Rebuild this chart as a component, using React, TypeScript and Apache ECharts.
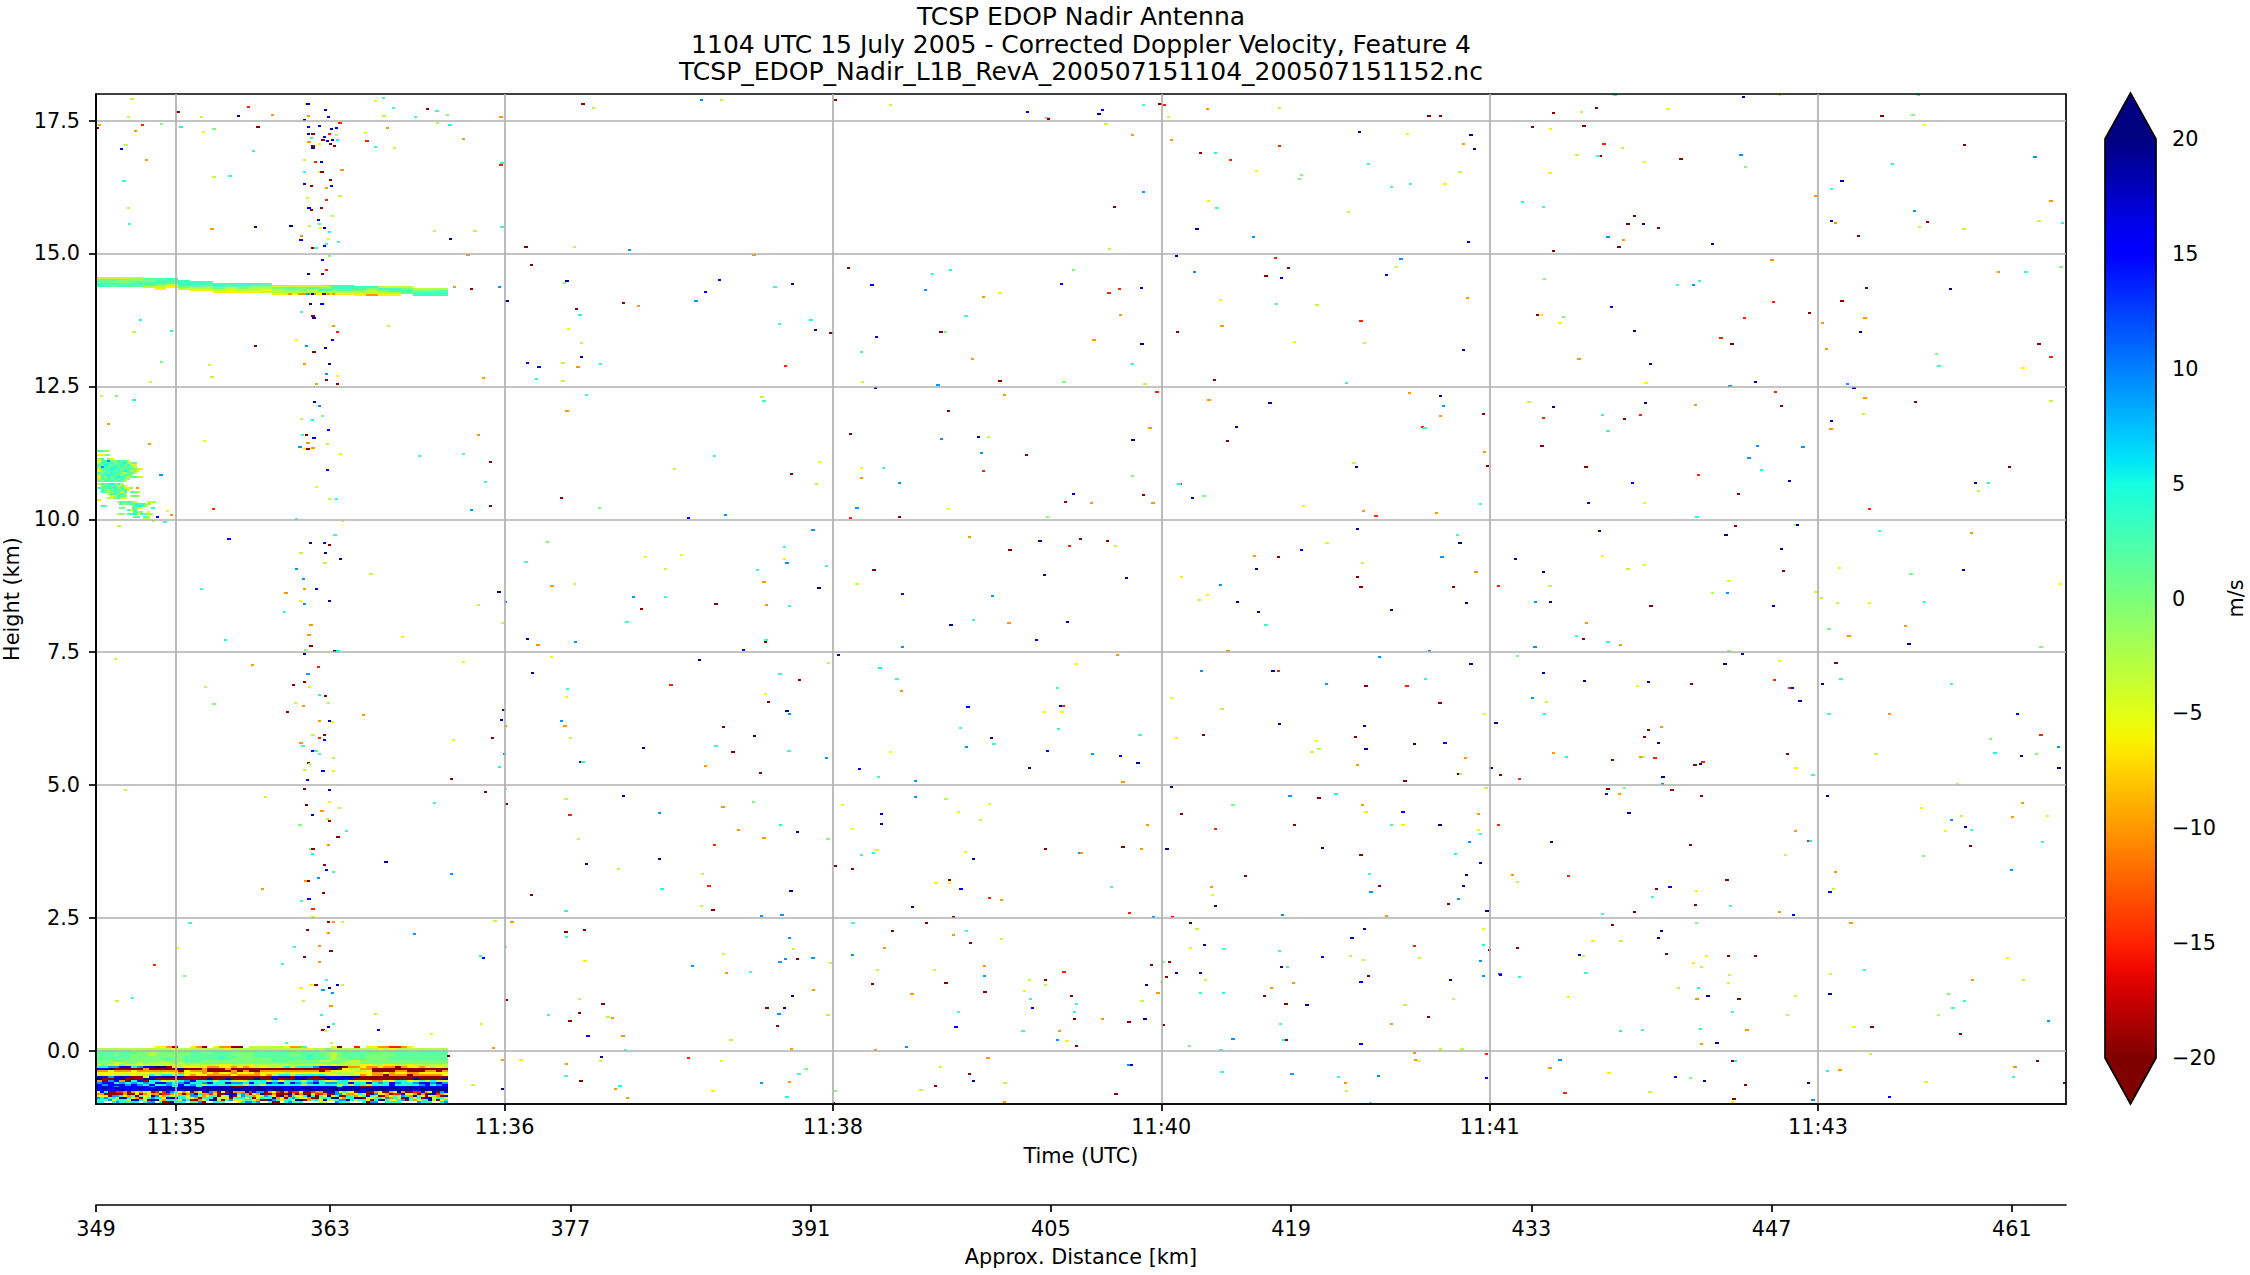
import React, { useEffect, useRef } from "react";
import * as echarts from "echarts";

const M = -19.5, R = -15, O = -10, Y = -6, L = -3, G = 0, H = 1.5, Q = 3, C = 5, S = 9, B = 15, N = 19;
const cellCodes: Record<string, number> = { a: M, r: R, o: O, y: Y, l: L, g: G, h: H, q: Q, c: C, s: S, b: B, n: N };

const titleLines = [
  "TCSP EDOP Nadir Antenna",
  "1104 UTC 15 July 2005 - Corrected Doppler Velocity, Feature 4",
  "TCSP_EDOP_Nadir_L1B_RevA_200507151104_200507151152.nc",
];
const timeTickSeconds = [0, 100, 200, 300, 400, 500];
const timeTickLabels = ["11:35", "11:36", "11:38", "11:40", "11:41", "11:43"];
const heightTicks = [0, 2.5, 5, 7.5, 10, 12.5, 15, 17.5];
const distanceTicks = [349.36, 363, 377, 391, 405, 419, 433, 447, 461];

// Surface return block: rows top to bottom; the columns of a row span the block evenly
const surfaceRows = [
  "..... ..... yyoa. .yoa. yooaa .llll llyoo q.... ya..r .yyoo rroy. .....",
  "lllll lllll lllyl lllll llyll lllll lllll lyllg lllll lllyl yllll lllll",
  "lgggl gllgg lggll ggllg glgll ggglg lgggl ggglg ggglg lgggl gggll ggggg",
  "hhhgh hhggl ggggg ghhgg hhhgg gghhh hhhgh hhhhg lghhh hhggg ghhhh hhhhh",
  "hhhgh hgggl ggggg ghhhh hhhgg gghhh hhhgg hqhhg lghhh hgggg ghhhh hhhhh",
  "hhhhh hgggg ggggg hhhhh hqhhg gghhh hhhhh hqhhg lghhh hgggg hhhhh hhhhh",
  "hhhhh hgggg gghgg hhhhh hqhgg ggggg hhhhh hqhhg lgghh hgggg hhhhh hhhhh",
  "ggghh ggggg ggggg hhhgg ggggg ggggg hhhgg gggll gggll ggggg ggggg ggggg",
  "gggll gglgl lllgl ggggg ggggg ggggg ggggg ggggg gglll ggggg ggggg ggggg",
  "lglyg llyll lllll lllll lyyll lylll lllll lllyl yllll yylly yllyl lllll",
  "ccssb bcsbb nnayl yylyo oyyoy oylyl llclq ccsbb nnaoo yooyo oaoyy oylyl",
  "bbnaa aaaoa aaaan aaaoa aaoaa aaaaa aaaaa aaaaa nayll ooaaa aaaaa aaaaa",
  "ooyoo oyooo ooooa yoooa aaaoa oaaoo ooooo oooao yyyyl lyaaa aooaa aooao",
  "yyyyy yyyyy lyyyo yyyoy oyyoy yyoyy yylyy yyyyy lllly yyooy oyyoo yyyyy",
  "lyyll lyllc lcclq yoyyo oooyo oooyo lcclq qcccl yllll oyooa oooao ooooy",
  "bbsbn baayb bnnnn aaaaa aaaaa aaaaa bnnab nbanb bbnnn aaaaa aaaaa aaaaa",
  "naann aaann aaaaa aaaan aanaa aanaa naaan naaan bnbba aaaaa aaaan aaaan",
  "oasbo acbac cyllc sbcqc lcqly lcqcl cyqcc lcsqy lqcyl yyool ycqyl qlcly",
  "sbbcs cscsc bbscs bccsb ccbss cbccb sbcbs csbcs sccbc cbcsc bsccs bbsbs",
  "bsbbb sbscb qcscb csqlc cqccq lcqlc ccqcc lqcqc clqlc qlcqc bcqcc sbcsb",
  "bbbsb bbbbs bbbcb bbcbb bnbaa nbnbb bbbbb bbbbb bcbnb aabnb bbbnb bbbbb",
  "bnbnb bbnbb nbnbn nnnnn nnnnn nnnnn nnbnb nnbnn nnnnn nnnnn nnnnn nnnnn",
  "bbbbn bbbbn nnbnb nnnbn nnnnn nnnnb nnbnn bnnnn nnnnn bnnnn bnnnb nnnnn",
  "ybcaa rroao yolya rlrbs qyoya oyabs oalan ooonr bssao yraoa rryaa rooab nsyql yabba aoyaa oynoa arrbo ynasb",
  "ooaaa aaoaa yaoyo oarro loaos ncoor yaabn bqsoa yonaa oaaan oaoaa yrroa assyo oycla nsyyo arrby yoaoa bnroy",
  "lyyas scyoq aqyln syocl lcqys sloyc qayln aysqq oylsc yanoa cyycn qaqyn yqaac qoyqn qlaao yqlsc onqya yloab",
  "scsqc ynncy oalqs qcybn bqcly oaqqc nllya qccyq alcqq noyac sqyyo aalcq nnyoq cnnal yqcys oqlan cyqab nlcqy",
  "cqqsy cqqlb bclan nyoqq clsqa aoycn nlaqs yylcq loaab sqyqc lnnao qcybl lqssn clqqy acnnq lycsa qoyqc nlayc",
  "cc..c scqqc c.qss .caan qcc.q qsa.. cqq.. .ycss cs..q aa.cs qqc.. ..ly. .scqq ...ca ss..c qqc.. ..scq q..cs",
];

// Cirrus layer near 14.4 km
const cirrusTops = [14.555, 14.555, 14.555, 14.555, 14.53, 14.53, 14.53, 14.505, 14.49, 14.49, 14.44, 14.44, 14.44, 14.44, 14.44, 14.41, 14.41, 14.41, 14.41, 14.41, 14.41, 14.41, 14.386, 14.386, 14.386, 14.38, 14.38, 14.355, 14.355, 14.355];
const cirrusCells = ["lhhqq", "lhgqh", "lgghq", "lghqh", "hgqql", "hqqgly", "qqhly", "qqqgl", "qqhly", "qqgly", "qqgly", "qhlyy", "qhgly", "qglly", "hglyl", "lglly", "lhgly", "lgglo", "lhllo", "lgqly", "qqgly", "qqhly", "qqgly", "qgllo", "lqgly", "lqqly", "lgqh", "lghq", "lgqq", "lhqq"];

// Patch of echoes at the left edge, 10-11.3 km
const patchHeights = [11.30, 11.23, 11.15, 11.11, 11.08, 11.04, 11.00, 10.96, 10.92, 10.88, 10.85, 10.81, 10.77, 10.73, 10.69, 10.65, 10.61, 10.57, 10.53, 10.50, 10.46, 10.42, 10.38, 10.34, 10.34, 10.31, 10.27, 10.27, 10.23, 10.23, 10.23, 10.19, 10.15, 10.11, 10.07, 10.04];
const patchStarts = [-24, -24, -24, -24, -24, -24, -24, -24, -24, -24, -24, -24, -24, -24, -24, -23, -24, -23, -23, -21, -20, -21, -24, -18, -9, -17.5, -23, -13.5, -17.5, -13.5, -7.5, -15, -13, -18, -13, -10];
const patchCells = ["qhgl", "yylg", "lq.gy", "yhqsglqhql", "lqqhqghqclgh", "hgcqhhqqgqly", "gsqhqcgqhqgl", "lqqhcqqgqhqgly", "yghqqgqhcqlgy", "qgqhqqhglqhl", "lhqcqhqgqhg", "yqgqhqcqhlgqly", "lqhqgqhqgl", "hgqhqgqhl", "lqgqcgql", "ghqhqlgy", "qhqqhqgqlyg", "qglhqhgql", "qhlgqhlq.qgl", "lhqgql", "ylqhg.lql", "llgqly", "y", "lqgqhl", "lyg", "qlgqhcqqlg", "qh", "gqcql", "gh", "qgy", "q", "qyq", "qlg.y", "lg.qhcyqhlg", "hq.cl", "ll"];

// Isolated noise cells: time (s after 11:35:00), height (km), velocity (m/s)
const specksUpperLeft = [
-13.4,17.9,L, 0.6,17.67,M, 22,17.76,R, 39.6,17.81,O, 40.2,17.81,N, 45.5,17.69,N, 60.8,17.87,Y, 63.1,17.92,Q, 66.2,17.74,Q, 76.5,17.72,M, 79.4,17.68,Q, 82.6,17.61,G, 63.3,17.59,L, 72.9,17.57,Q, -14.5,17.57,L, 7.8,17.56,L, 19.1,17.59,N, 29.3,17.61,O, 40.4,17.59,O, 46.3,17.57,B, 98.9,17.57,O, 39,17.52,N, 123.9,17.81,M, 127.2,17.74,L, 160,17.88,S, 166,17.89,L, 200.8,17.88,M, 217.5,17.79,L, 259.3,17.66,B, 265.2,17.54,Q, 265.6,17.53,M,
-23.3,17.42,O, -24.1,17.36,M, -10.3,17.42,R, -4.4,17.44,G, -12.4,17.31,O, 1.5,17.37,C, 8.4,17.29,Y, 11.5,17.35,G, 24.9,17.38,M, 40.3,17.37,B, 43.6,17.39,B, 49.9,17.46,R, 47.4,17.35,N, 48.9,17.36,B, 64.4,17.36,O, 79.5,17.46,L, 83.4,17.42,C, 40.3,17.25,N, 41.7,17.25,M, 46.8,17.25,R, 57.6,17.26,Y, 48.8,17.22,L, 45.1,17.2,B, 41.3,17.18,Q, 44.7,17.14,M, 46.1,17.12,N, 49.1,17.14,C, 47.6,17.13,B, 40.5,17.1,O, 43.6,17.06,Y, 47,17.06,M, 48.2,17.02,M, 41.7,17.02,M, 41.7,16.99,N, 58.1,17.12,R, 60.8,17,C, 66.5,16.99,L, 87.6,17.16,O, -15.3,17.04,L, -16.6,16.97,B, 23.5,16.93,Q, -9,16.76,O, 39.2,16.76,L, 42.4,16.72,R, 44.2,16.72,N, 50.5,16.57,O, 99.2,16.7,Q, 98.9,16.67,R, 39.2,16.53,Q, 43.6,16.53,L, 44.4,16.53,M, 11.5,16.44,L, 16.4,16.46,Q, -15.9,16.37,Q, 47,16.38,M, 39,16.31,B, 41.3,16.27,M, 47.4,16.27,B, 45.9,16.23,O, 49.9,16.08,L, 40,16.05,L, 45.9,16.01,R, -14.5,15.86,L, 40.5,15.86,B, 44.3,15.86,M, 41.3,15.82,M, 47.6,15.71,L, 43.4,15.63,B, -14.3,15.56,Q, 43.6,15.56,Q, 10.9,15.46,O, 24.1,15.5,N, 35,15.52,N, 40.7,15.52,L, 44,15.48,Y, 45.1,15.48,N, 46.8,15.41,C, 78.6,15.42,L, 91,15.42,L, 99.2,15.5,Q, 38.2,15.33,O, 38,15.26,B, 46.5,15.28,Y, 49.5,15.22,Q, 83.6,15.27,N, 45.9,15.18,Q, 45.1,15.14,B, 41.5,15.1,M, 42.6,15.1,Q, 106.5,15.12,M, 121.4,15.12,L, 138,15.07,S,
88.9,14.97,O, 46.7,14.95,G, 44.5,14.88,B, 45.7,14.69,R, 40.3,14.62,N, 44.5,14.62,M, 108.2,14.79,M, 119,14.48,N, 118.2,14.45,G, 165.4,14.5,B, 187.8,14.43,N, 182.4,14.37,Q, 176,14.97,O, 204.8,14.72,M, 235.8,14.69,C, 230.4,14.62,Q, 273.2,14.69,G, 211.9,14.41,B, 269.6,14.43,B, 228.3,14.31,S, 161.2,14.27,B, 250.9,14.26,Y, 245.9,14.18,O, 84.7,14.37,O, 90,14.33,M, 98.5,14.37,S, 100.8,14.11,N, 158.3,14.11,S, 122,13.96,M, 136.3,14.07,M, 140.9,14.02,O, 40.9,14.05,N, 44.4,14.05,B, 38.2,13.9,Q, 41.7,13.83,M, 42,13.79,N, -10.9,13.75,C, 123,13.84,C, 240.5,13.82,Q, 183.7,13.68,Q, 193.3,13.75,C, 49.1,13.52,R, -12.8,13.52,L, -1.5,13.54,C, 64.6,13.64,L, 48,13.64,O, 119.5,13.58,Y, 194.8,13.56,N, 199.4,13.51,M, 232.9,13.52,M, 234.2,13.52,G, 213.2,13.43,B, 36.7,13.37,Y, 47.6,13.37,B, 24.1,13.26,M, 39.8,13.26,S, 45.5,13.22,N, 42,13.15,M, 123.5,13.32,L, 208.7,13.15,Q, 123.4,13.05,N, 242.5,13.02,O, -4.4,12.96,G, 10.1,12.9,L, 39,12.92,O, 46.8,12.92,N, 106.9,12.94,B, 110.5,12.87,B, 117.8,12.94,L, 122.4,12.87,O, 129.3,12.92,Q, 185.5,12.88,R, 45.9,12.73,S, 49.1,12.7,Y, 10.9,12.68,L, 45.9,12.62,M, 93.5,12.66,O, 109.8,12.64,C, 117.8,12.6,L, -7.8,12.58,L, 42.8,12.55,O, 49.1,12.55,M, 209,12.58,L, 250.9,12.6,M, 270.4,12.58,G, 232,12.53,S,
-22.8,12.32,L, -18.2,12.32,G, -12.8,12.25,C, 42.1,12.21,N, 43.6,12.13,S, 124.9,12.34,Q, 213,12.47,N, 252.2,12.34,O, 178.4,12.3,L, 179,12.23,Q, 235.2,12.04,M, 119,12.04,O, 38.2,11.89,L, 41.5,11.87,C, 44.6,11.94,G, -20.5,11.79,O, 46.5,11.68,B, 38.4,11.59,Q, 39.6,11.59,M, 42,11.53,B, 92,11.58,O, -8,11.42,O, 8.6,11.47,Y, 40.2,11.44,O, 46.1,11.42,L, 41.7,11.34,O, 37.7,11.36,S, 39,11.32,Y, 40.2,11.32,M, 50.1,11.23,Y, 74.2,11.19,Q, 87.6,11.23,Q, 95.8,11.08,M, 205.4,11.61,M, 233.1,11.51,S, 244.4,11.55,N, 247.4,11.55,L, 245.3,11.25,S, 258.9,11.21,M, 163.9,11.19,Q, 196,11.08,Y, -4.6,10.83,S, 46.1,10.93,B, 151.8,10.95,L, 187.4,10.85,M, 208.8,10.97,Y, 215.5,10.97,Q, 245.9,10.91,R, 94.3,10.7,Q, 42.8,10.61,Y, 208.8,10.78,O, 220.3,10.68,S, 195,10.67,L, 273.2,10.48,N, -11.7,10.59,O, 46.8,10.38,L, 48.8,10.38,C, 117.4,10.4,M, 11.3,10.2,R, 95.8,10.25,M, 90,10.18,S, 129,10.22,G, 207.3,10.21,S, 235.2,10.2,Y, 270.9,10.33,M, 156,10.03,B, 167.3,10.08,S, 205.4,10.03,R, 220.3,10.05,M, 265.4,10.05,G, -2.7,10.16,Y, -1.5,10.08,O, -5.7,10.05,B,
36.7,10,Q, 50.7,9.96,Y, -6.9,9.96,L, -3.4,9.94,Q, -17.4,9.88,L, 48.4,9.71,Q, 16.1,9.63,B, 40.9,9.56,N, 45.1,9.56,B, 46.7,9.52,M, 113,9.58,G, 193.9,9.8,S, 241.7,9.67,O, 263.1,9.59,N, 272.1,9.5,R, 275.3,9.63,M, 253.9,9.42,M, 185.3,9.48,Q, 38,9.37,L, 45.5,9.37,N, 50.1,9.26,N, 143,9.29,Y, 154,9.33,Y, 185.3,9.26,Y, 186,9.18,S, 106.5,9.2,Q, 45.3,9.18,L, 149,9.07,L, 198,9.12,Q, 36.7,9.07,S, 59.3,8.97,L, 177,9.05,Q, 212.5,9.05,M, 264.5,8.95,N, 38.8,8.88,S, 179,8.82,O, 207.3,8.78,L, 114.5,8.75,O, 121.4,8.78,L, 195.8,8.71,N, 7.8,8.69,Q, 39.2,8.69,O, 42.8,8.69,B, 98.3,8.63,N, 33.5,8.61,O, 221.3,8.6,B, 139.2,8.54,S, 149.1,8.54,Q, 248.6,8.56,S,
34.7,14.24,O, 36.5,14.24,Y, 38,14.24,O, 40,14.24,S, 41.5,14.24,N, 43,14.24,Y, 45,14.24,M, 46.5,14.24,O, 48,14.24,O,
];
const specksUpperRight = [
438.2,17.98,C, 477.4,17.95,N, 488.3,17.98,Y, 530.6,17.98,C, 282,17.7,B, 281,17.63,N, 294.5,17.79,Q, 299.6,17.81,M, 300.8,17.79,R, 314,17.72,O, 336.1,17.74,L, 302.3,17.57,L, 381.5,17.59,M, 385.1,17.59,M, 419.5,17.64,M, 432.5,17.74,M, 427.9,17.66,L, 454.3,17.72,Y, 519.5,17.59,M, 528.9,17.61,G,
283.2,17.44,L, 291.2,17.23,O, 303.1,17.14,O, 312,16.89,M, 316.4,16.89,C, 321,16.76,R, 336.1,17.02,R, 360.4,17.29,N, 375,17.25,Y, 394.3,17.23,N, 392,17.06,O, 395.4,16.97,N, 413,17.38,M, 418.5,17.34,Y, 428.7,17.4,M, 434.8,17.06,R, 440.5,16.99,L, 433.8,16.84,M, 433,16.84,Q, 426.6,16.85,L, 447.2,16.72,Y, 458.3,16.78,M, 476.5,16.85,S, 477.8,16.63,G, 532.5,17.42,Y, 544.6,17.04,M, 522.6,16.68,C, 566.1,16.82,S, 363.1,16.68,Q, 328.9,16.55,Y, 342.8,16.48,G, 342.1,16.4,G, 391,16.53,L, 418.4,16.52,Y, 294.5,16.16,S, 370,16.25,Q, 375.9,16.31,Q, 386.4,16.31,Y, 507.3,16.37,N, 504,16.21,Q, 499.4,16.08,O, 570.9,15.99,O, 285.7,15.88,M, 314.3,15.99,Y, 317,15.86,Q, 357,15.78,L, 409.9,15.97,C, 416.4,15.88,Q, 444.2,15.71,M, 442.1,15.56,M, 446.8,15.56,N, 451.4,15.48,M, 529.4,15.8,S, 504,15.61,N, 505.3,15.57,O, 533.3,15.59,M, 530.8,15.5,L, 544.4,15.46,L, 567.3,15.61,L, 574.4,15.57,C, 310.9,15.46,N, 328.1,15.31,S, 393.5,15.22,N, 436,15.31,S, 440.7,15.25,O, 439.4,15.12,M, 467.9,15.18,N, 419.5,15.05,M, 512.4,15.33,M, 284.3,15.09,L,
304.6,14.95,N, 334.8,14.92,R, 373,14.9,S, 486,14.88,O, 338.8,14.73,M, 371.7,14.75,L, 310.1,14.65,S, 331.9,14.58,M, 336.5,14.54,N, 368.6,14.6,B, 416.8,14.52,G, 554.9,14.65,O, 563.3,14.65,Q, 574,14.75,G, 287.2,14.33,R, 293.9,14.35,B, 284.1,14.26,R, 457.2,14.41,Q, 462.1,14.41,S, 464,14.48,Q, 514.7,14.35,M, 540.3,14.33,N, 393.3,14.16,O, 318,14.13,Y, 335,14.05,Q, 347.4,14.03,L, 437.1,13.99,B, 507.3,14.11,M, 486.4,14.09,R, 477.6,13.79,R, 287.6,13.84,O, 414.5,13.84,M, 415.7,13.84,Y, 422.4,13.81,G, 421.4,13.69,Y, 497.5,13.88,M, 514.3,13.79,O, 360.8,13.73,R, 318.5,13.64,O, 305,13.52,M, 444.2,13.54,N, 501.3,13.69,O, 513,13.52,N, 279.5,13.37,O, 294.1,13.3,N, 340.5,13.34,Y, 361.8,13.32,L, 470.4,13.41,R, 473.8,13.3,M, 567.3,13.3,M, 392,13.19,N, 502.5,13.2,O, 536,13.11,G, 570.9,13.05,R, 427.2,13.02,O, 449,12.92,N, 291.2,12.92,C, 536.8,12.88,Q, 562.4,12.85,Y, 316.1,12.62,M, 295,12.55,L, 356.4,12.57,Q, 447.6,12.57,Y, 473.2,12.51,S, 480.9,12.58,N, 509,12.55,S,
298.7,12.4,R, 314.5,12.25,O, 333.1,12.18,N, 375.5,12.38,O, 385.1,12.32,N, 385.9,12.13,S, 385.1,11.94,O, 398.1,11.98,M, 412,12.21,L, 419.5,12.11,N, 447.4,12.19,N, 462.7,12.15,O, 487,12.4,R, 488.9,12.13,M, 510.9,12.47,N, 514.3,12.28,O, 529.6,12.21,M, 570.9,12.23,L, 416.4,11.91,R, 434.4,11.96,Q, 441.1,11.89,M, 445.9,11.96,R, 513.8,11.98,L, 504,11.85,N, 503.9,11.7,O, 296.6,11.72,O, 322.9,11.74,N, 379.5,11.74,R, 380.3,11.72,Q, 436,11.66,Q, 291.4,11.49,N, 320.1,11.47,M, 415.9,11.38,M, 481.6,11.38,S, 495.4,11.36,S, 398.5,11.27,O, 479,11.15,S, 358.7,11.06,L, 359.5,10.99,N, 399.4,11,M, 429.3,10.99,M, 463.5,10.83,R, 482.8,10.93,C, 558.3,10.99,M, 291.2,10.82,G, 305.9,10.67,R, 305.4,10.67,C, 443.4,10.68,B, 491.4,10.72,N, 548,10.68,N, 551.8,10.68,C, 294.5,10.46,M, 309.4,10.4,N, 313,10.44,G, 475.7,10.48,M, 548.8,10.53,L, 278.8,10.31,O, 297.5,10.31,O, 343.2,10.25,Y, 397.3,10.29,Q, 430,10.31,B, 447.2,10.31,Y, 361.6,10.16,O, 383.9,10.12,O, 365.4,10.06,R, 515.7,10.2,R, 463.1,10.05,C,
359.8,9.82,N, 390.1,9.71,Q, 433.5,9.78,N, 474.9,9.88,M, 472,9.71,N, 493.3,9.89,G, 493.7,9.89,N, 518.7,9.78,Q, 546.8,9.74,O, 283.6,9.59,M, 286,9.5,L, 350.5,9.56,Y, 391,9.56,N, 342.8,9.42,B, 328.3,9.31,O, 335.6,9.29,M, 385.5,9.29,S, 407.8,9.26,N, 434.4,9.31,Y, 488.9,9.44,N, 361.2,9.18,L, 442.1,9.07,L, 447.2,9.14,Y, 506.5,9.09,Y, 328.9,9.07,N, 395.8,9.01,O, 416.4,9.01,N, 489.5,9.03,M, 528.3,8.97,G, 544.2,9.05,N, 289.5,8.9,N, 306.1,8.92,Y, 359.8,8.92,M, 472.9,8.84,Y, 318,8.77,S, 360.8,8.73,M, 388.9,8.73,M, 402.7,8.75,R, 418.4,8.75,L, 573.8,8.78,Y, 314,8.58,Y, 467.9,8.61,L, 472.5,8.61,S, 499.4,8.63,L, 501,8.52,L,
];
const specksLowerLeft = [
37.9,8.47,Y, 46.8,8.47,N, 39,8.4,S, 92,8.38,L, 100.4,8.45,S, 141.7,8.32,M, 164.4,8.4,M, 179.8,8.38,O, 186.8,8.36,Q, 33.1,8.25,Q, 137.3,8.06,Q, 41.1,8.02,O, 99.5,8.04,L, 242.9,8.11,Q, 236,8.02,N, 253.6,8.04,O, 271.4,8.06,N, 40.5,7.83,O, 69,7.78,Y, 15.1,7.72,C, 107.1,7.74,N, 121.6,7.7,S, 110.2,7.63,O, 179.6,7.72,Q, 179.4,7.7,M, 262.1,7.72,B, 41.1,7.61,M, 39.4,7.55,G, 48.4,7.53,N, 49.3,7.53,C, 172.7,7.55,B, 221.2,7.59,S,
-18.5,7.38,L, 39,7.46,N, 114.3,7.4,Y, 159.3,7.36,N, 201.7,7.44,N, 198.7,7.29,L, 87.6,7.32,Y, 23.3,7.25,O, 43.4,7.23,R, 108.6,7.1,N, 214.3,7.21,C, 274.2,7.27,Y, 40.2,7.08,S, 183.9,7.08,Q, 189.9,6.97,M, 219.5,6.99,Q, 39,6.93,M, 35.8,6.89,M, 40.7,6.85,Y, 150.7,6.89,R, 119.1,6.8,Q, 268.3,6.82,Q, 9,6.84,L, 220.8,6.76,O, 43.6,6.7,C, 45.5,6.67,M, 118.9,6.65,Y, 179.5,6.72,Y, 11.5,6.53,G, 36.3,6.55,L, 46.5,6.55,L, 180.3,6.57,M, 38.8,6.48,O, 99.8,6.42,N, 186,6.4,N, 241.1,6.46,B, 269.2,6.48,N, 270.2,6.48,R, 186.8,6.33,S, 34,6.37,M, 57,6.31,O, 264.4,6.37,Y, 269.8,6.37,Y, 43.6,6.21,O, 46.8,6.21,N, 47.6,6.18,Y, 99,6.23,N, 117.4,6.2,S, 118.4,6.12,O, 100.4,6.12,O, 166.7,6.1,M, 238.8,6.08,Q, 268.6,6.06,Q, 41.7,5.95,L, 45.1,5.95,M, 96.4,5.89,M, 120.1,5.89,L, 176.1,5.93,N, 248.4,5.89,N, 84.5,5.84,Y, 45.1,5.84,B, 43.6,5.88,R, 38,5.8,O, 38.6,5.73,Q, 249.1,5.78,Q, 240.7,5.71,S, 41.7,5.65,B, 42.6,5.65,Q, 100,5.59,S, 142.4,5.69,N, 164.4,5.73,Q, 169.6,5.63,M, 186.6,5.65,Q, 217.6,5.63,Y, 265.4,5.65,B, 43.6,5.58,Q, 48,5.5,L, 123.3,5.44,M, 123.9,5.44,C, 40.3,5.42,M, 40.7,5.39,L, 198.1,5.5,S, 39,5.29,L, 44.7,5.27,B, 48,5.27,Y, 161.2,5.35,O, 98.5,5.34,C, 208,5.3,B, 259.8,5.32,N, 178,5.22,M, 213.8,5.16,Q, 83.9,5.12,M, 40,5.1,B, 225.2,5.07,S,
-15.5,4.9,L, 39,4.92,M, 46.8,4.9,N, 94.3,4.86,M, 100.4,4.92,G, 27.3,4.78,L, 136.3,4.8,N, 118.7,4.73,L, 78.6,4.67,Q, 46.8,4.69,Y, 100.6,4.65,M, 175.9,4.69,G, 225.2,4.77,S, 234.4,4.73,L, 247.6,4.65,Y, 202.9,4.63,Y, 39.6,4.62,M, 49.7,4.56,L, 166.5,4.58,O, 44.4,4.52,O, 147.2,4.48,S, 41.5,4.43,N, 119.9,4.43,R, 238.2,4.5,Y, 214.9,4.45,N, 46,4.37,L, 46.7,4.33,M, 244.9,4.35,L, 214.9,4.26,N, 37.7,4.24,G, 184.1,4.24,C, 171.3,4.16,O, 205.9,4.18,Y, 51.8,4.13,Q, 189.3,4.11,N, 49.3,4.03,M, 179,4.01,O, 198.5,3.99,G, 122.6,3.98,L, 46.5,3.88,O, 163.9,3.88,R, 41.1,3.79,G, 41.7,3.79,M, 213.4,3.77,Y, 264.8,3.79,M, 41.5,3.71,C, 212.4,3.73,C, 208.8,3.69,Q, 240.3,3.75,Y, 275.1,3.73,S, 242.8,3.6,N, 63.9,3.56,N, 147.2,3.6,N, 125,3.52,N, 45.1,3.49,M, 200.8,3.47,M, 205.9,3.43,M, 45.9,3.41,B, 134.8,3.43,L, 48,3.37,Q, 83.9,3.32,S, 160.2,3.32,L, 43.4,3.26,S, 235.6,3.22,M, 39.4,3.19,O, 40.3,3.19,M, 231.4,3.15,Y, 235.4,3.15,Y, 162.3,3.1,R, 26.2,3.05,O, 44.9,2.96,M, 108.2,2.94,M, 148,3.04,C, 187.2,3,N, 239,3.04,B, 247.6,2.87,R, 251.4,2.83,O, 40.5,2.85,B, 38.2,2.81,Q, 224.3,2.7,N, 41.7,2.66,R, 160,2.72,L, 118.7,2.64,C, 163.5,2.65,M, 178.2,2.53,S, 184.5,2.55,S, 41.7,2.51,L, 236.7,2.51,M,
46.5,2.43,M, 48,2.43,O, 50.7,2.43,L, 4.2,2.41,Q, 97.1,2.45,L, 102.3,2.42,O, 206.1,2.41,Q, 228.5,2.4,M, 40,2.28,M, 124.3,2.28,M, 118.7,2.23,M, 218.2,2.26,M, 46.5,2.21,O, 72.5,2.19,S, 240.7,2.25,Q, 236.7,2.17,O, 251.4,2.11,L, 118.9,2.15,Q, 186.8,2.13,S, 241.9,2.02,M, 43.6,1.98,O, 0.4,1.93,Y, 36,1.95,Q, 100.4,1.96,G, 188.1,1.91,L, 215.7,1.93,O, 47.2,1.87,M, 166.7,1.83,L, 205.9,1.81,S, 39,1.76,M, 92.7,1.78,C, 93.5,1.74,B, 185.5,1.72,S, 189.3,1.72,M, 193.9,1.74,S, 43.6,1.68,O, 124.5,1.69,Y, 183.9,1.68,S, 199.4,1.66,L, 32.5,1.64,Q, -6.5,1.61,R, 157.2,1.59,S, 246.1,1.59,O, 213.6,1.52,L, 231,1.53,L, 270.4,1.49,R, 167.5,1.46,O, 175,1.48,Q, 246.1,1.4,S, 2.5,1.4,G, 259.8,1.34,L, 264.8,1.34,M, 45.9,1.34,Q, 212,1.25,M, 234.4,1.27,M, 264.8,1.23,L, 41.1,1.23,Y, 42.6,1.23,M, 49.1,1.23,N, 50.7,1.23,L, 46.8,1.19,N, 38,1.19,Y, 44.7,1.15,S, 194.1,1.15,O, 258.3,1.13,Y, 47.6,1.08,S, 246.3,1.1,M, 224.1,1.06,O, 272.7,1.04,M, 187.8,1.04,N, -13.2,1,Q, -18,0.93,L, 38.8,0.93,L, 100.6,0.95,M, 122.9,0.98,L, 260.2,0.98,Q, 130,0.89,M, 274.2,0.89,Q, 47.2,0.85,O, 260.8,0.81,B, 179.9,0.8,M, 185.3,0.81,N, 60.8,0.7,L, 122.9,0.72,M, 183.6,0.7,S, 238.2,0.74,Q, 273.6,0.74,Q, 198.5,0.68,L, 44.2,0.67,C, 113.4,0.68,Q, 30.2,0.59,Q, 131.5,0.63,L, 132.9,0.61,O, 119.9,0.57,M, 273.6,0.59,M, 48,0.5,Q, 61.6,0.4,B, 46.5,0.44,N, 44.7,0.4,M, 45.5,0.37,L, 183.2,0.46,M, 237.5,0.44,B, 93.1,0.5,L, 269,0.37,O, 257.9,0.38,Q, 77.8,0.31,Y, 125.4,0.27,B, 136.1,0.27,O, 268.3,0.21,S, 271.3,0.18,Y, 169,0.2,L, 33.7,0.14,Q, 47.4,0.14,L, 274.2,0.1,M, 222.4,0.08,S, 96.6,0.05,O, 136.9,0.01,Q, 187.4,0.03,O, 213,0.01,O,
83,-0.1,M, 129.6,-0.12,N, 156,-0.14,R, 99.4,-0.18,O, 105,-0.18,Y, 129.3,-0.2,L, 166,-0.2,Y, 247.2,-0.14,O, 118.9,-0.25,O, 232.7,-0.31,L, 191.8,-0.35,G, 189.7,-0.43,Q, 241.5,-0.44,M, 118.7,-0.48,Q, 242.8,-0.56,N, 123.3,-0.56,M, 178.2,-0.6,S, 186.8,-0.58,O, 252.4,-0.6,L, 90.4,-0.65,L, 135.2,-0.67,C, 133.8,-0.71,O, 99.4,-0.71,N, 231.2,-0.67,M, 226.8,-0.74,L, 163.5,-0.76,Y, 200.8,-0.76,G, 137.5,-0.89,O, 186,-0.87,C, 200.2,-0.98,M, 252.2,-0.97,O,
];
const specksLowerRight = [
323.1,8.45,N, 311.5,8.49,L, 329.6,8.25,N, 370,8.3,N, 392.9,8.43,N, 414,8.45,S, 418.5,8.45,N, 449.1,8.36,M, 486.4,8.36,N, 506,8.42,L, 515.7,8.43,Y, 532.5,8.45,Q, 331.9,8.02,Q, 429.5,8.04,O, 503.3,7.93,G, 526.6,8,O, 509.4,7.81,O, 426.4,7.81,Q, 428.5,7.74,M, 436,7.7,Q, 439.8,7.63,O, 527.7,7.66,N, 567.9,7.59,G, 413.8,7.59,S, 320.3,7.53,O, 381.6,7.53,S, 472.9,7.53,G,
286.6,7.44,O, 366.5,7.4,S, 476.9,7.46,N, 408.4,7.42,G, 488.3,7.34,Y, 505.5,7.29,M, 394.3,7.27,N, 471.7,7.27,N, 312.2,7.15,S, 334,7.15,N, 335.6,7.15,R, 416.4,7.1,N, 380.5,7,C, 350.3,6.91,S, 362.3,6.87,M, 374.8,6.87,R, 428.9,6.95,N, 445.1,6.87,Y, 448.4,6.93,N, 461.4,6.91,M, 486.8,6.97,R, 491.2,6.82,R, 492.2,6.82,B, 501.3,6.91,N, 507,6.99,Q, 540.7,6.91,Q, 303.1,6.63,Y, 413,6.63,S, 384.9,6.55,M, 494.5,6.59,N, 417.4,6.57,L, 318.5,6.44,L, 398.5,6.33,Y, 416.8,6.34,C, 503.3,6.34,Q, 521.8,6.34,O, 560.8,6.33,B, 336,6.15,N, 361.9,6.12,N, 401.9,6.16,N, 452.4,6.1,O, 448.4,6.03,M, 293.5,5.95,Q, 304.6,5.88,Y, 312.8,5.95,M, 447.2,5.9,M, 359.1,5.9,M, 451.4,5.8,N, 567.9,5.94,R, 552.4,5.86,G, 347.2,5.82,Y, 377.1,5.78,N, 386.4,5.8,B, 348,5.67,L, 362.3,5.67,N, 345.9,5.63,L, 573.2,5.71,S, 279,5.58,S, 287.6,5.54,B, 419.5,5.6,O, 423.3,5.52,C, 437.3,5.48,M, 445.9,5.52,O, 446.8,5.52,L, 450.3,5.5,R, 490.6,5.58,M, 517.6,5.58,L, 553.9,5.6,C, 561.9,5.55,N, 566.5,5.58,G, 292.9,5.42,N, 392.7,5.5,O, 359.8,5.37,O, 465,5.44,R, 464.1,5.4,N, 462.5,5.37,M, 400.4,5.32,N, 493.3,5.32,Y, 573.4,5.32,N, 390.4,5.2,N, 391.2,5.2,L, 403.3,5.18,M, 498.5,5.18,Q, 452.8,5.16,N, 409,5.12,R, 374.2,5.07,M, 288.3,5.05,O, 452.6,5.02,S, 542.4,5.02,L,
303.1,4.97,N, 398.9,4.94,L, 441.1,4.95,G, 436,4.92,M, 435.6,4.84,B, 439.6,4.84,O, 455.5,4.9,M, 464.4,4.8,M, 502.9,4.8,N, 339.2,4.79,S, 353.2,4.84,C, 348,4.76,M, 321.8,4.62,G, 361.2,4.62,O, 562.3,4.67,O, 362.3,4.5,Y, 373.6,4.5,B, 531.4,4.56,Y, 306.1,4.45,M, 396.7,4.45,O, 442.4,4.47,N, 543.6,4.41,L, 540.7,4.35,S, 559.1,4.39,O, 569.8,4.41,Y, 295.8,4.24,O, 316.4,4.18,R, 340.5,4.25,M, 370,4.24,Q, 373.6,4.24,Y, 384.9,4.24,N, 402.7,4.24,R, 544.9,4.22,N, 546.8,4.16,Q, 396.6,4.15,Y, 493.1,4.13,O, 538.8,4.13,Y, 397.3,4.07,Q, 393.9,3.92,S, 418.9,3.92,N, 497.1,3.94,R, 497.7,3.94,C, 568.3,3.92,Q, 288.3,3.84,M, 293.9,3.8,O, 301.7,3.79,N, 349.1,3.82,N, 461.2,3.88,M, 546.5,3.85,M, 275.7,3.73,O, 360.8,3.68,M, 389.7,3.71,C, 490.1,3.68,L, 532.1,3.66,G, 397.3,3.54,N, 558.9,3.41,S, 363.4,3.32,Q, 505.4,3.36,O, 325.6,3.28,M, 392.9,3.3,N, 406.9,3.3,O, 423.9,3.28,R, 408.4,3.18,L, 472.3,3.22,M, 315.3,3.09,O, 284.9,3.09,Q, 366.5,3.1,M, 392,3.11,N, 454.9,3.09,B, 450.7,3.04,M, 462.9,3.01,Y, 503.6,2.98,B, 504.8,3.05,L, 363.9,2.98,S, 315.5,2.94,Y, 449.5,2.89,Q, 390.4,2.85,S, 387.4,2.77,M, 316.4,2.73,N, 462.7,2.75,M, 473.4,2.73,Q, 290.4,2.6,R, 399.2,2.64,N, 444.2,2.62,M, 434.4,2.57,Q, 488.3,2.62,O, 492.5,2.55,B, 297.7,2.51,S, 303.4,2.51,R, 337,2.55,S, 368.6,2.53,O,
309,2.41,N, 462.9,2.41,G, 510,2.41,O, 437.5,2.37,M, 310.9,2.3,L, 398.1,2.3,Y, 361.9,2.3,N, 452.4,2.25,N, 358.1,2.13,N, 451.4,2.13,N, 431.5,2.07,Y, 440,2.07,L, 313.2,2,N, 377.1,1.98,R, 398.1,2,C, 408.4,1.94,M, 309,1.93,Y, 319.1,1.91,Q, 400,1.89,M, 336.1,1.87,Q, 453.9,1.83,M, 349,1.76,B, 357.7,1.79,L, 427.3,1.81,N, 428.5,1.78,L, 466,1.79,Y, 472.8,1.79,M, 480.9,1.79,M, 378.6,1.75,L, 397.3,1.69,S, 557.6,1.75,Y, 361.6,1.7,L, 462,1.66,Y, 300.6,1.68,G, 302.5,1.68,M, 297.1,1.61,M, 464.6,1.58,L, 336.7,1.57,N, 338.4,1.57,Q, 429.3,1.47,Q, 514.1,1.53,Q, 312,1.47,N, 304.6,1.46,N, 403.1,1.44,R, 403.4,1.42,B, 363.1,1.4,M, 503.8,1.44,L, 473,1.42,L, 301.5,1.38,M, 409,1.38,C, 388,1.34,N, 398.1,1.4,S, 313.4,1.34,L, 547,1.34,O, 562.5,1.34,L, 300,1.3,L, 360.8,1.29,B, 340.2,1.27,O, 472.8,1.27,Y, 295.4,1.23,N, 457.4,1.19,L, 333.5,1.19,O, 463.5,1.18,C, 503.6,1.06,N, 312,1.08,Q, 318.9,1.08,C, 299,1.08,O, 331.5,1.04,M, 423.9,1.02,Y, 493.1,1.04,L, 539.8,1.06,G, 466.5,1.04,N, 463.1,0.98,O, 388.9,0.97,L, 475.9,0.97,M, 544.5,0.93,Q, 294.1,0.93,L, 338,0.89,M, 344.4,0.87,N, 374.2,0.87,L, 541.1,0.8,Q, 474,0.74,Q, 381.3,0.63,M, 490.8,0.67,L, 536.7,0.67,L, 290.2,0.55,M, 295,0.59,N, 282,0.59,O, 300.6,0.48,M, 336.3,0.51,Q, 370,0.5,O, 570.2,0.57,S, 510.9,0.44,Y, 516.4,0.44,M, 439.8,0.38,C, 446.5,0.4,Q, 464.2,0.42,C, 478.4,0.4,O, 321.8,0.23,S, 337.3,0.21,C, 338.2,0.21,M, 543.4,0.32,M, 308.6,0.1,G, 360.8,0.12,B, 464.4,0.12,O, 469.2,0.14,N, 385.1,0.03,L, 391.6,0.03,L, 318.2,0.02,Q,
377.1,-0.04,O, 399,-0.06,R, 515.9,-0.05,L, 421.4,-0.18,S, 377.4,-0.18,O, 378.4,-0.2,L, 474,-0.2,M, 474.9,-0.2,C, 566.9,-0.2,M, 290,-0.27,S, 290.9,-0.27,N, 418.4,-0.33,O, 506.7,-0.36,O, 560,-0.31,O, 318.5,-0.39,Q, 339.8,-0.43,S, 436.3,-0.41,Y, 502.9,-0.37,C, 366.2,-0.48,S, 353.9,-0.5,Q, 399,-0.51,B, 456.6,-0.5,B, 461.2,-0.52,G, 465.4,-0.56,N, 559.5,-0.5,Q, 356.2,-0.6,O, 532.9,-0.58,Y, 497.1,-0.6,N, 575,-0.6,M, 477.8,-0.65,M, 356.4,-0.75,L, 422.9,-0.79,R, 448.8,-0.77,L, 286.2,-0.82,M, 521.8,-0.86,B, 474.4,-0.91,M, 498.5,-0.92,S, 474,-0.96,Y, 363.7,-0.98,Q,
];

const T_MIN = -24.4;
const T_MAX = 575.5;
const GATE_KM = 0.0376;
const SPECK_S = 1.0;
const SURFACE_TOP_KM = 0.1;
const SURFACE_END_S = 82.8;
const CIRRUS_COL_S = 107.2 / 30;
const FONT = "'DejaVu Sans', sans-serif";

// matplotlib jet, reversed over -20..20 m/s
function seg(f: number, pts: number[][]) {
  for (let i = 1; i < pts.length; i++) {
    if (f <= pts[i][0]) {
      const [a, va] = pts[i - 1];
      const [b, vb] = pts[i];
      return va + ((vb - va) * (f - a)) / (b - a);
    }
  }
  return pts[pts.length - 1][1];
}
function velocityColor(v: number) {
  const f = Math.min(1, Math.max(0, (20 - v) / 40));
  const r = seg(f, [[0, 0], [0.35, 0], [0.66, 1], [0.89, 1], [1, 0.5]]);
  const g = seg(f, [[0, 0], [0.125, 0], [0.375, 1], [0.64, 1], [0.91, 0], [1, 0]]);
  const b = seg(f, [[0, 0.5], [0.11, 1], [0.34, 1], [0.65, 0], [1, 0]]);
  return `rgb(${Math.round(r * 255)},${Math.round(g * 255)},${Math.round(b * 255)})`;
}

function buildCells() {
  const cells: number[][] = [];
  surfaceRows.forEach((row, r) => {
    const chars = row.replace(/ /g, "");
    const colS = (SURFACE_END_S - T_MIN) / chars.length;
    for (let c = 0; c < chars.length; c++) {
      const code = cellCodes[chars[c]];
      if (code === undefined) continue;
      cells.push([T_MIN + c * colS, SURFACE_TOP_KM - r * GATE_KM, code, colS, GATE_KM]);
    }
  });
  cirrusCells.forEach((col, i) => {
    for (let r = 0; r < col.length; r++) {
      cells.push([T_MIN + i * CIRRUS_COL_S, cirrusTops[i] - r * GATE_KM, cellCodes[col[r]], CIRRUS_COL_S, GATE_KM]);
    }
  });
  patchCells.forEach((row, i) => {
    for (let c = 0; c < row.length; c++) {
      const code = cellCodes[row[c]];
      if (code === undefined) continue;
      cells.push([patchStarts[i] + c, patchHeights[i], code, 1, GATE_KM]);
    }
  });
  [specksUpperLeft, specksUpperRight, specksLowerLeft, specksLowerRight].forEach((list) => {
    for (let i = 0; i + 2 < list.length; i += 3) {
      cells.push([list[i] - SPECK_S / 2, list[i + 1] + GATE_KM / 2, list[i + 2], SPECK_S, GATE_KM]);
    }
  });
  return cells;
}

const axisText = { color: "#000", fontFamily: FONT, fontSize: 20.8 };

export default function App() {
  const ref = useRef<HTMLDivElement>(null);
  useEffect(() => {
    if (!ref.current) return;
    const chart = echarts.init(ref.current, undefined, { renderer: "svg" });
    const stops = [];
    for (let v = 20; v >= -20; v -= 1) stops.push({ offset: (20 - v) / 40, color: velocityColor(v) });
    chart.setOption({
      animation: false,
      backgroundColor: "#fff",
      title: titleLines.map((text, i) => ({
        text,
        left: 1076,
        top: [-1, 27, 54][i],
        textAlign: "center",
        textStyle: { color: "#000", fontFamily: FONT, fontSize: 25, fontWeight: "normal" },
      })),
      grid: [
        { left: 96, top: 94, width: 1970, height: 1010, show: true, borderColor: "#000", borderWidth: 1.7, backgroundColor: "transparent", z: 3, outerBoundsMode: "none", containLabel: false },
        { left: 2105, top: 139, width: 51, height: 919, outerBoundsMode: "none", containLabel: false },
      ],
      xAxis: [
        {
          type: "value", gridIndex: 0, min: T_MIN, max: T_MAX, position: "bottom", z: 3,
          name: "Time (UTC)", nameLocation: "middle", nameGap: 41,
          nameTextStyle: axisText,
          axisLine: { show: true, onZero: false, lineStyle: { color: "#000", width: 1.7 } },
          axisTick: { show: true, length: 7, customValues: timeTickSeconds, lineStyle: { color: "#000", width: 1.7 } },
          axisLabel: { ...axisText, margin: 12, customValues: timeTickSeconds, formatter: (v: number) => timeTickLabels[timeTickSeconds.indexOf(v)] ?? "" },
          splitLine: { show: true, lineStyle: { color: "#b0b0b0", width: 1.7 } },
        },
        {
          type: "value", gridIndex: 0, min: 349.36, max: 464.15, position: "bottom", offset: 101, z: 3,
          name: "Approx. Distance [km]", nameLocation: "middle", nameGap: 41,
          nameTextStyle: axisText,
          axisLine: { show: true, onZero: false, lineStyle: { color: "#000", width: 1.7 } },
          axisTick: { show: true, length: 7, customValues: distanceTicks, lineStyle: { color: "#000", width: 1.7 } },
          axisLabel: { ...axisText, margin: 13, customValues: distanceTicks, formatter: (v: number) => String(Math.round(v)), showMinLabel: true, showMaxLabel: true, hideOverlap: false },
          splitLine: { show: false },
        },
        { type: "value", gridIndex: 1, min: 0, max: 1, show: false },
      ],
      yAxis: [
        {
          type: "value", gridIndex: 0, min: -1, max: 18, z: 3,
          name: "Height (km)", nameLocation: "middle", nameGap: 72, nameRotate: 90,
          nameTextStyle: axisText,
          axisLine: { show: true, onZero: false, lineStyle: { color: "#000", width: 1.7 } },
          axisTick: { show: true, length: 7, customValues: heightTicks, lineStyle: { color: "#000", width: 1.7 } },
          axisLabel: { ...axisText, margin: 16, customValues: heightTicks, formatter: (v: number) => v.toFixed(1) },
          splitLine: { show: true, lineStyle: { color: "#b0b0b0", width: 1.7 } },
        },
        {
          type: "value", gridIndex: 1, min: -20, max: 20, interval: 5, position: "right", z: 3,
          name: "m/s", nameLocation: "middle", nameGap: 69, nameRotate: 90,
          nameTextStyle: axisText,
          axisLine: { show: false },
          axisTick: { show: true, length: 7, lineStyle: { color: "#000", width: 1.7 } },
          axisLabel: { ...axisText, margin: 16, formatter: (v: number) => String(v).replace("-", "\u2212") },
          splitLine: { show: false },
        },
      ],
      series: [
        {
          type: "custom", xAxisIndex: 0, yAxisIndex: 0, z: 1, clip: true, progressive: 0,
          silent: true,
          data: buildCells(),
          renderItem: (_p: any, api: any) => {
            const t = api.value(0), h = api.value(1), w = api.value(3), d = api.value(4);
            const a = api.coord([t, h]);
            const b = api.coord([t + w, h - d]);
            const x0 = Math.round(a[0]), y0 = Math.round(a[1]);
            const x1 = Math.max(Math.round(b[0]), x0 + 2), y1 = Math.max(Math.round(b[1]), y0 + 2);
            return {
              type: "rect",
              shape: { x: x0, y: y0, width: x1 - x0, height: y1 - y0 },
              style: { fill: velocityColor(api.value(2)), stroke: null },
            };
          },
        },
        {
          type: "custom", xAxisIndex: 2, yAxisIndex: 1, z: 4, clip: false, silent: true,
          data: [[0, 0]],
          renderItem: (_p: any, api: any) => {
            const pt = (x: number, v: number) => api.coord([x, v]);
            const outline = [pt(0, 20), pt(0.5, 22), pt(1, 20), pt(1, -20), pt(0.5, -22), pt(0, -20)];
            const tl = pt(0, 20), br = pt(1, -20);
            return {
              type: "group",
              children: [
                { type: "polygon", shape: { points: [pt(0, 20), pt(0.5, 22), pt(1, 20)] }, style: { fill: velocityColor(20) } },
                { type: "polygon", shape: { points: [pt(0, -20), pt(0.5, -22), pt(1, -20)] }, style: { fill: velocityColor(-20) } },
                {
                  type: "rect",
                  shape: { x: tl[0], y: tl[1], width: br[0] - tl[0], height: br[1] - tl[1] },
                  style: { fill: new echarts.graphic.LinearGradient(0, 0, 0, 1, stops) },
                },
                { type: "polygon", shape: { points: outline }, style: { fill: "none", stroke: "#000", lineWidth: 1.7 } },
              ],
            };
          },
        },
      ],
    });
    return () => chart.dispose();
  }, []);
  return <div ref={ref} style={{ position: "absolute", left: 0, top: 0, width: 2250, height: 1275 }} />;
}
